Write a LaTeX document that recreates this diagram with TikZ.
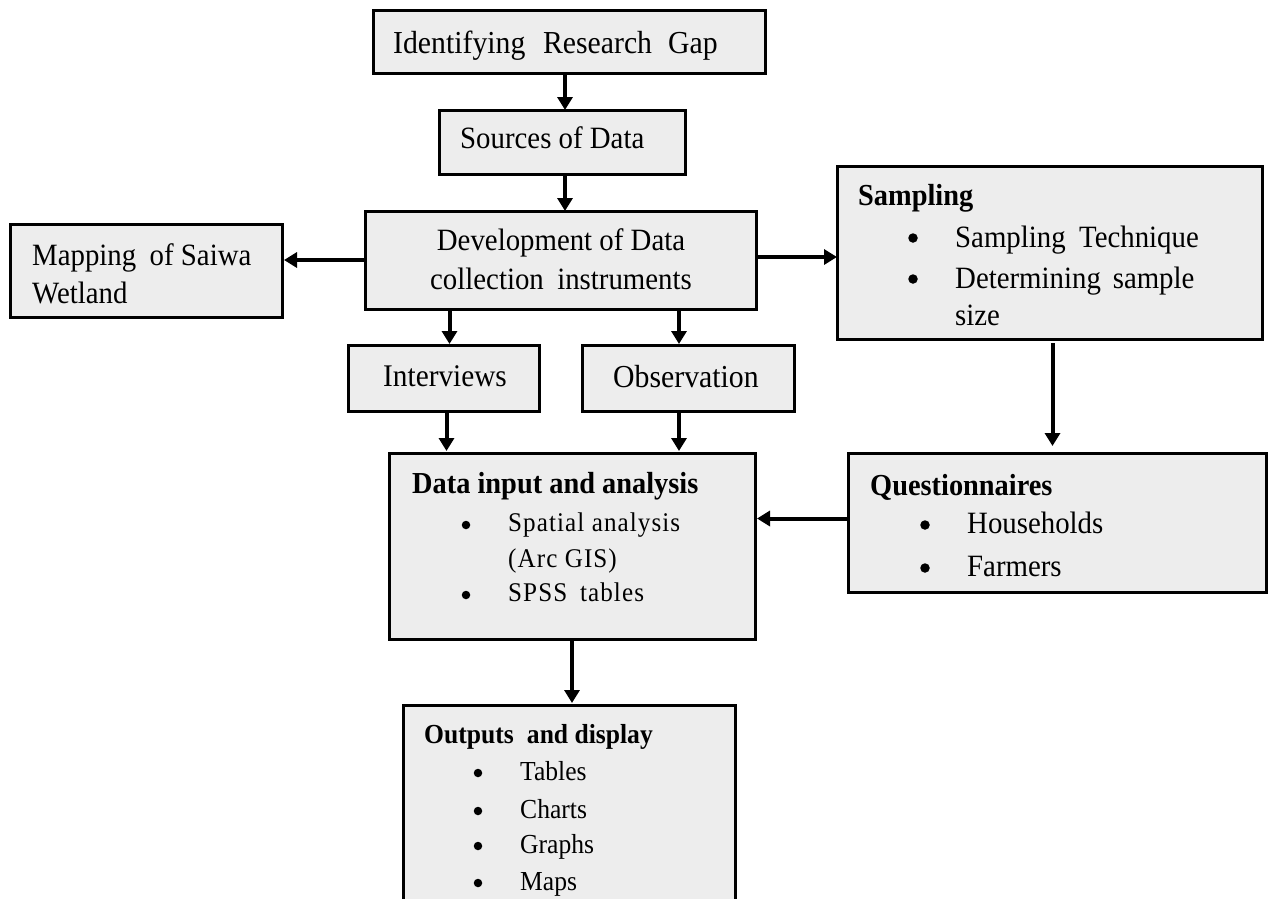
\documentclass[tikz,border=0pt]{standalone}
\usepackage{fontspec}
\setmainfont{Liberation Serif}[FakeStretch=0.93]
\newfontfamily\spacedfont{Liberation Serif}[FakeStretch=0.93, LetterSpace=4]
\usetikzlibrary{arrows.meta}
\definecolor{boxfill}{HTML}{EDEDED}
\begin{document}
\begin{tikzpicture}[x=1pt,y=-1pt,
  box/.style={draw=black, fill=boxfill, line width=3pt, inner sep=0pt, outer sep=0pt, anchor=north west},
  txt/.style={anchor=base west, inner sep=0pt, font=\fontsize{31}{37}\selectfont},
  stxt/.style={anchor=base west, inner sep=0pt, font=\spacedfont\fontsize{27}{32}\selectfont},
  otxt/.style={anchor=base west, inner sep=0pt, font=\fontsize{27.5}{32}\selectfont},
  hd/.style={anchor=base west, inner sep=0pt, font=\fontsize{30.5}{37}\selectfont\bfseries},
  shd/.style={anchor=base west, inner sep=0pt, font=\fontsize{27.5}{32}\selectfont\bfseries},
  bulA/.style={circle, fill=black, inner sep=0pt, outer sep=0pt, minimum size=9.5pt},
  bulB/.style={circle, fill=black, inner sep=0pt, outer sep=0pt, minimum size=8.5pt},
  arr/.style={line width=4pt, -{Triangle[width=15pt,length=13pt]}}
]
\clip (0,0) rectangle (1269,898);
\fill[white] (0,0) rectangle (1269,898);

% boxes
\node[box, minimum width=392, minimum height=63] (gap) at (373,10) {};
\node[box, minimum width=246, minimum height=64] (src) at (439,110) {};
\node[box, minimum width=391, minimum height=98] (dev) at (365,211) {};
\node[box, minimum width=272, minimum height=93] (map) at (10,224) {};
\node[box, minimum width=425, minimum height=173] (samp) at (837,166) {};
\node[box, minimum width=191, minimum height=66] (intv) at (348,345) {};
\node[box, minimum width=212, minimum height=66] (obs) at (582,345) {};
\node[box, minimum width=366, minimum height=186] (data) at (389,453) {};
\node[box, minimum width=418, minimum height=139] (quest) at (848,453) {};
\node[box, minimum width=332, minimum height=220] (out) at (403,705) {};

% texts
\node[txt, font=\fontsize{32}{38}\selectfont] (tgap) at (393,53) {Identifying\hspace{0.55em}Research\hspace{0.5em}Gap};
\node[txt] (tsrc) at (460,148) {Sources of Data};
\node[txt, anchor=base] (tdev1) at (561,250) {Development of Data};
\node[txt, anchor=base] (tdev2) at (561,289) {collection\hspace{0.2em} instruments};
\node[txt] (tmap1) at (32,265) {Mapping\hspace{0.2em} of Saiwa};
\node[txt] (tmap2) at (32,303) {Wetland};
\node[txt, font=\fontsize{31.5}{37}\selectfont] (tintv) at (383,386) {Interviews};
\node[txt, font=\fontsize{32}{37}\selectfont] (tobs) at (613,387) {Observation};

\node[hd] (tsamp) at (858,205) {Sampling};
\node[bulA] (bs1) at (913,238) {};
\node[txt] (ts1) at (955,247) {Sampling\hspace{0.2em} Technique};
\node[bulA] (bs2) at (913,279) {};
\node[txt] (ts2) at (955,288) {Determining\hspace{0.15em} sample};
\node[txt] (ts3) at (955,325) {size};

\node[hd] (tquest) at (870,495) {Questionnaires};
\node[bulA] (bq1) at (925,525) {};
\node[txt] (tq1) at (967,533) {Households};
\node[bulA] (bq2) at (925,568) {};
\node[txt] (tq2) at (967,576) {Farmers};

\node[hd] (tdata) at (412,493) {Data input and analysis};
\node[bulB] (bd1) at (466,525) {};
\node[stxt] (td1) at (508,531) {Spatial analysis};
\node[stxt] (td2) at (508,567) {(Arc GIS)};
\node[bulB] (bd2) at (466,595) {};
\node[stxt] (td3) at (508,601) {SPSS\hspace{0.2em} tables};

\node[shd] (tout) at (424,743) {Outputs\hspace{0.25em} and display};
\node[bulB] (bo1) at (478,773) {};
\node[otxt] (to1) at (520,780) {Tables};
\node[bulB] (bo2) at (478,811) {};
\node[otxt] (to2) at (520,818) {Charts};
\node[bulB] (bo3) at (478,846) {};
\node[otxt] (to3) at (520,853) {Graphs};
\node[bulB] (bo4) at (478,883) {};
\node[otxt] (to4) at (520,890) {Maps};

% helper coordinates for connector positions
\coordinate (cgap) at ([xshift=3pt]src.north);
\coordinate (csrc) at ([xshift=3pt]src.south);
\coordinate (cint) at ([xshift=6pt]intv.north);
\coordinate (cint2) at ([xshift=3pt]intv.south);
\coordinate (cobs) at ([xshift=-9pt]obs.north);
\coordinate (cobs2) at ([xshift=-9pt]obs.south);
\coordinate (cdevr) at ([yshift=3pt]dev.east);
\coordinate (csamp) at ([xshift=3pt]samp.south);
\coordinate (cquest) at ([yshift=4pt]quest.west);

% connectors
\draw[arr] (cgap |- gap.south) -- (cgap);
\draw[arr] (csrc) -- (csrc |- dev.north);
\draw[arr] (dev.west) -- ([xshift=2pt]dev.west -| map.east);
\draw[arr] (cdevr) -- (cdevr -| samp.west);
\draw[arr, shorten >=1pt] (cint |- dev.south) -- (cint);
\draw[arr, shorten >=1pt] (cobs |- dev.south) -- (cobs);
\draw[arr, shorten >=2pt] (cint2) -- (cint2 |- data.north);
\draw[arr, shorten >=2pt] (cobs2) -- (cobs2 |- data.north);
\draw[arr, shorten <=4pt, shorten >=7pt] (csamp) -- (csamp |- quest.north);
\draw[arr, shorten >=2pt] (cquest) -- (cquest -| data.east);
\draw[arr, shorten >=2pt] (data.south) -- (data.south |- out.north);
\end{tikzpicture}
\end{document}
